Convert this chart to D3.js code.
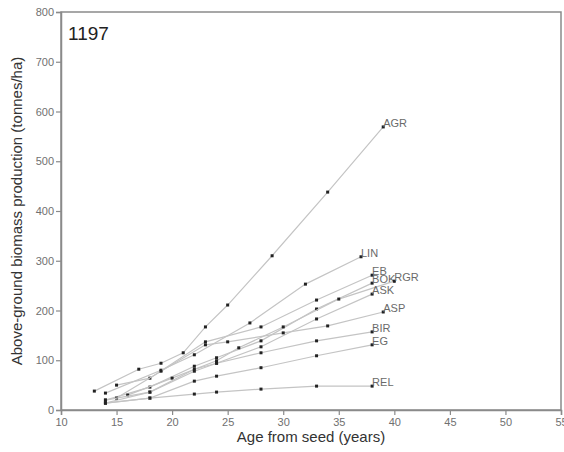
<!DOCTYPE html>
<html>
<head>
<meta charset="utf-8">
<script src="https://cdn.jsdelivr.net/npm/d3@7"></script>
<style>
  body { margin: 0; background: #fff; }
  svg { font-family: "Liberation Sans", Arial, sans-serif; }
</style>
</head>
<body>
<div id="chart"></div>
<script>
  // series values: [age, tonnes/ha]
  var AGR = [[13, 38], [17, 82], [19, 94], [21, 115], [23, 167], [25, 211], [29, 310], [34, 438], [39, 569]];
  var LIN = [[14, 34], [19, 80], [22, 111], [27, 175], [32, 253], [37, 308]];
  var EB = [[15, 50], [18, 64], [23, 137], [28, 167], [33, 221], [38, 271]];
  var BOK = [[14, 20], [18, 46], [22, 88], [24, 105], [28, 139], [33, 203], [38, 255]];
  var RGR = [[16, 30], [20, 64], [24, 99], [26, 125], [30, 167], [35, 223], [40, 259]];
  var ASK = [[14, 14], [18, 36], [22, 82], [24, 94], [28, 127], [33, 183], [38, 233]];
  var ASP = [[15, 24], [19, 78], [23, 131], [25, 137], [30, 155], [34, 169], [39, 197]];
  var BIR = [[14, 20], [18, 36], [22, 78], [24, 94], [28, 115], [33, 139], [38, 157]];
  var EG = [[14, 14], [18, 24], [22, 58], [24, 68], [28, 85], [33, 109], [38, 131]];
  var REL = [[14, 14], [18, 24], [22, 32], [24, 36], [28, 42], [33, 48], [38, 48]];

  var seriesNames = ["AGR", "LIN", "EB", "BOK", "RGR", "ASK", "ASP", "BIR", "EG", "REL"];
  var seriesValues = [AGR, LIN, EB, BOK, RGR, ASK, ASP, BIR, EG, REL];
  var xTicks = [10, 15, 20, 25, 30, 35, 40, 45, 50, 55];
  var yTicks = [0, 100, 200, 300, 400, 500, 600, 700, 800];
  var plotTitle = "1197";

  var width = 564, height = 452;
  var margin = {top: 12, right: 3, bottom: 42, left: 61};
  var w = width - margin.left - margin.right;
  var h = height - margin.top - margin.bottom;

  var svg = d3.select("#chart").append("svg")
    .attr("width", width).attr("height", height);
  var g = svg.append("g")
    .attr("transform", "translate(" + margin.left + "," + margin.top + ")");

  var xx = d3.scaleLinear().domain([10, 55]).range([0, w]);
  var yy = d3.scaleLinear().domain([0, 800]).range([h, 0]);

  var axisColour = "#8a8a8a";

  // frame
  g.append("rect")
    .attr("width", w).attr("height", h)
    .attr("fill", "none").attr("stroke", axisColour).attr("stroke-width", 1.5);

  var xAxis = g.append("g").attr("transform", "translate(0," + h + ")")
    .call(d3.axisBottom(xx).tickValues(xTicks).tickSize(5).tickPadding(3));
  var yAxis = g.append("g")
    .call(d3.axisLeft(yy).tickValues(yTicks).tickSize(5).tickPadding(2));

  [xAxis, yAxis].forEach(function(a) {
    a.select(".domain").attr("stroke", axisColour).attr("stroke-width", 1.5);
    a.selectAll(".tick line").attr("stroke", axisColour).attr("stroke-width", 1.2);
    a.selectAll(".tick text").attr("fill", "#707070").style("font-size", "11px")
      .style("font-family", "'Liberation Sans', Arial, sans-serif");
  });

  var line = d3.line()
    .x(function(d) { return xx(d[0]); })
    .y(function(d) { return yy(d[1]); });

  var series = g.selectAll(".series").data(seriesValues).enter()
    .append("g").attr("class", "series");

  series.append("path")
    .attr("d", line)
    .attr("fill", "none").attr("stroke", "#c4c4c4").attr("stroke-width", 1.2);

  series.selectAll("rect").data(function(d) { return d; }).enter()
    .append("rect")
    .attr("x", function(d) { return xx(d[0]) - 1.5; })
    .attr("y", function(d) { return yy(d[1]) - 1.5; })
    .attr("width", 3).attr("height", 3)
    .attr("fill", "#222");

  // labels at the last point
  series.append("text")
    .attr("x", function(d) { return xx(d[d.length - 1][0]); })
    .attr("y", function(d) { return yy(d[d.length - 1][1]) - 4; })
    .attr("dy", "0.35em")
    .attr("fill", "#6a6a6a").style("font-size", "11px")
    .text(function(d, i) { return seriesNames[i]; });

  g.append("text")
    .attr("x", 7).attr("y", 28)
    .attr("fill", "#222").style("font-size", "19px")
    .text(plotTitle);

  svg.append("text")
    .attr("transform", "translate(22," + (margin.top + h / 2) + ")rotate(-90)")
    .attr("text-anchor", "middle")
    .attr("fill", "#333").style("font-size", "15px")
    .text("Above-ground biomass production (tonnes/ha)");

  svg.append("text")
    .attr("x", margin.left + w / 2).attr("y", 442)
    .attr("text-anchor", "middle")
    .attr("fill", "#333").style("font-size", "15px")
    .text("Age from seed (years)");
</script>
</body>
</html>
